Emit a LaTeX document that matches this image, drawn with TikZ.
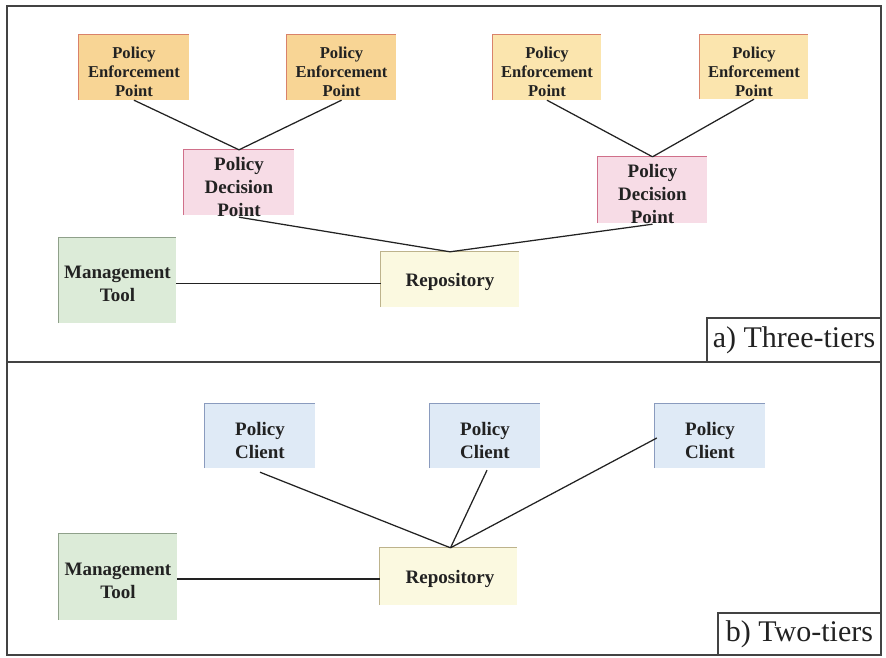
\documentclass[tikz,border=0pt]{standalone}
\usepackage{fontspec}
\setmainfont{Liberation Serif}
\usetikzlibrary{calc}
\definecolor{pepfillA}{HTML}{F8D595}
\definecolor{pepfillB}{HTML}{FBE5AE}
\definecolor{pepedge}{HTML}{D9826A}
\definecolor{pdpfill}{HTML}{F7DCE6}
\definecolor{pdpedge}{HTML}{D0708A}
\definecolor{mgtfill}{HTML}{DCEBD8}
\definecolor{mgtedge}{HTML}{8FA08A}
\definecolor{repfill}{HTML}{FBF9E0}
\definecolor{repedge}{HTML}{BDB38C}
\definecolor{clifill}{HTML}{DFEAF6}
\definecolor{cliedge}{HTML}{8A9BBE}
\definecolor{ink}{HTML}{222222}
\tikzset{
  box/.style={inner sep=0pt, draw=none},
  edge/.style={line width=0.8pt},
  txt/.style={inner sep=0pt, align=center, text=ink,
    font=\fontsize{19}{23}\selectfont\bfseries},
  smalltxt/.style={txt, font=\fontsize{16.6}{19}\selectfont\bfseries},
  link/.style={draw=ink, line width=1.25pt},
  frame/.style={draw=ink!85, line width=2.2pt},
  tag/.style={draw=ink!85, line width=1.4pt},
  tagtxt/.style={text=ink, font=\fontsize{30}{34}\selectfont},
}
% box: name, left, top, right, bottom, fill, edge colour
\newcommand{\shadedbox}[7]{%
  \node[box, fill=#6, minimum width=#4pt-#2pt, minimum height=#5pt-#3pt]
    (#1) at ({(#2+#4)/2},{(#3+#5)/2}) {};
  \draw[edge, draw=#7] (#1.south west) |- (#1.north east);
}
\begin{document}
\begin{tikzpicture}[x=1pt,y=-1pt]
\useasboundingbox (0,0) rectangle (886,657);

% ---------- a) three tiers ----------
\shadedbox{pep1}{79}{35}{189}{100}{pepfillA}{pepedge}
\shadedbox{pep2}{287}{35}{396}{100}{pepfillA}{pepedge}
\shadedbox{pep3}{493}{35}{601}{100}{pepfillB}{pepedge}
\shadedbox{pep4}{700}{35}{808}{99}{pepfillB}{pepedge}
\node[smalltxt] (pep1t) at (134,72) {Policy\\Enforcement\\Point};
\node[smalltxt] (pep2t) at (341.5,72) {Policy\\Enforcement\\Point};
\node[smalltxt] (pep3t) at (547,72) {Policy\\Enforcement\\Point};
\node[smalltxt] (pep4t) at (754,72) {Policy\\Enforcement\\Point};

\shadedbox{pdp1}{184}{150}{294}{215}{pdpfill}{pdpedge}
\shadedbox{pdp2}{598}{157}{707}{223}{pdpfill}{pdpedge}
\node[txt] (pdp1t) at (239,187) {Policy\\Decision\\Point};
\node[txt] (pdp2t) at (652.5,194) {Policy\\Decision\\Point};

\shadedbox{mgt1}{59}{238}{176}{323}{mgtfill}{mgtedge}
\node[txt] (mgt1t) at (117.5,284) {Management\\Tool};

\shadedbox{rep1}{381}{252}{519}{307}{repfill}{repedge}
\node[txt] (rep1t) at (450,282) {Repository};

\draw[link] (pep1.south) -- (pdp1.north);
\draw[link] (pep2.south) -- (pdp1.north);
\draw[link] (pep3.south) -- (pdp2.north);
\draw[link] (pep4.south) -- (pdp2.north);
\draw[link] ([yshift=-2pt]pdp1.south) -- (rep1.north);
\draw[link] ([yshift=-1pt]pdp2.south) -- (rep1.north);
\draw[link] ([yshift=-3pt]mgt1.east) -- ([yshift=-3pt]mgt1.east -| rep1.west);

% ---------- b) two tiers ----------
\shadedbox{cli1}{205}{404}{315}{468}{clifill}{cliedge}
\shadedbox{cli2}{430}{404}{540}{468}{clifill}{cliedge}
\shadedbox{cli3}{655}{404}{765}{468}{clifill}{cliedge}
\node[txt] (cli1t) at (260,440) {Policy\\Client};
\node[txt] (cli2t) at (485,440) {Policy\\Client};
\node[txt] (cli3t) at (710,440) {Policy\\Client};

\shadedbox{mgt2}{59}{534}{177}{620}{mgtfill}{mgtedge}
\node[txt] (mgt2t) at (118,581) {Management\\Tool};

\shadedbox{rep2}{380}{548}{517}{605}{repfill}{repedge}
\node[txt] (rep2t) at (450,579) {Repository};

\coordinate (hub) at ($(rep2.north)+(2,0)$);
\draw[link] ([yshift=-4pt]cli1.south) -- (hub);
\draw[link] ([xshift=2pt,yshift=-2pt]cli2.south) -- (hub);
\draw[link] ([xshift=2pt,yshift=-2pt]cli3.west) -- (hub);
\draw[link] ([yshift=-2pt]mgt2.east) -- ([yshift=-2pt]mgt2.east -| rep2.west);

% ---------- frame and tags ----------
\draw[frame] (7,6) rectangle (881,655);
\draw[frame] (7,362) -- (881,362);
\node[tag, minimum width=174pt, minimum height=44pt, inner sep=0pt]
  (taga) at (794,340) {};
\node[tagtxt] (tagat) at (taga.center) {a) Three-tiers};
\node[tag, minimum width=163pt, minimum height=42pt, inner sep=0pt]
  (tagb) at (799.5,634) {};
\node[tagtxt] (tagbt) at (tagb.center) {b) Two-tiers};
\end{tikzpicture}
\end{document}
